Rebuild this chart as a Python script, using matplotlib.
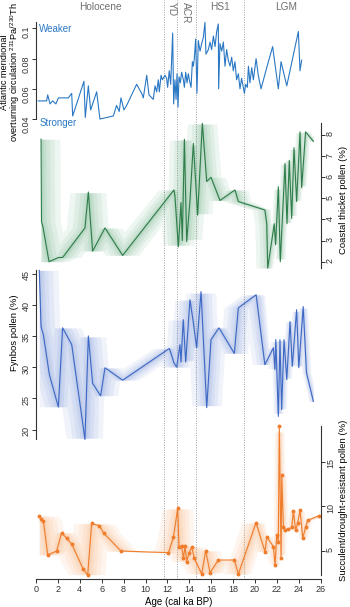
import numpy as np
import matplotlib
matplotlib.use("Agg")
import matplotlib.pyplot as plt

plt.rcParams["font.family"] = ["Liberation Sans", "DejaVu Sans"]
plt.rcParams["mathtext.fontset"] = "custom"
plt.rcParams["mathtext.rm"] = "Liberation Sans"

# --- data (age in cal ka BP) ---
amoc_age = [0.21, 0.97, 1.07, 1.28, 1.52, 1.82, 2.04, 2.95, 3.26, 3.35,
            4.38, 4.5, 4.78, 4.99, 5.54, 5.84, 7.06, 7.36, 7.6, 7.76,
            8.03, 8.28, 9.19, 9.65, 9.8, 10.11, 10.32, 10.71, 10.87, 11.02,
            11.17, 11.26, 11.42, 11.54, 11.78, 11.93, 12.02, 12.17, 12.3, 12.48,
            12.57, 12.69, 12.79, 12.88, 12.97, 13.06, 13.18, 13.3, 13.46, 13.55,
            13.67, 13.79, 13.91, 14.03, 14.16, 14.28, 14.37, 14.46, 14.58, 14.7,
            14.82, 14.98, 15.13, 15.28, 15.43, 15.52, 15.74, 15.89, 16.04, 16.2,
            16.35, 16.5, 16.65, 16.68, 16.8, 16.96, 17.11, 17.26, 17.41, 17.56,
            17.72, 17.87, 18.02, 18.17, 18.32, 18.48, 18.63, 18.78, 19.03, 19.15,
            19.3, 19.4, 19.54, 19.7, 19.85, 20.1, 20.3, 20.55, 21.07, 21.61,
            22.13, 22.38, 22.9, 23.96, 24.11, 24.26]
amoc_pa_th = [0.052, 0.052, 0.056, 0.050, 0.052, 0.050, 0.054, 0.054, 0.057, 0.042,
              0.065, 0.041, 0.062, 0.046, 0.058, 0.040, 0.042, 0.049, 0.045, 0.054,
              0.046, 0.049, 0.063, 0.057, 0.054, 0.069, 0.056, 0.053, 0.062, 0.058,
              0.066, 0.058, 0.069, 0.066, 0.069, 0.067, 0.061, 0.072, 0.063, 0.097,
              0.050, 0.066, 0.053, 0.070, 0.048, 0.068, 0.064, 0.071, 0.066, 0.061,
              0.071, 0.064, 0.070, 0.065, 0.061, 0.078, 0.075, 0.080, 0.093, 0.057,
              0.092, 0.085, 0.090, 0.094, 0.104, 0.083, 0.086, 0.091, 0.086, 0.095,
              0.088, 0.098, 0.103, 0.060, 0.090, 0.085, 0.091, 0.075, 0.086, 0.079,
              0.075, 0.081, 0.072, 0.078, 0.066, 0.070, 0.060, 0.067, 0.057, 0.063,
              0.061, 0.075, 0.064, 0.074, 0.066, 0.080, 0.069, 0.060, 0.074, 0.088,
              0.060, 0.078, 0.062, 0.098, 0.072, 0.079]

thicket_age = [0.46, 0.5, 0.65, 1.19, 2.04, 2.43, 4.47, 4.78, 5.17, 6.3,
               7.91, 12.6, 12.69, 13.0, 13.24, 13.36, 13.55, 13.76, 14.06, 14.37,
               14.76, 15.19, 15.59, 15.98, 16.8, 18.17, 18.48, 20.9, 21.07, 21.16,
               21.76, 21.88, 22.13, 22.31, 22.74, 22.92, 23.13, 23.35, 23.56, 23.8,
               24.11, 24.26, 24.62, 25.33]
thicket_pct = [7.8, 3.9, 3.6, 2.0, 2.2, 2.2, 3.6, 5.3, 2.5, 3.6,
               2.3, 5.4, 5.1, 2.7, 4.8, 3.0, 7.8, 2.95, 4.9, 7.6,
               4.2, 8.55, 5.8, 6.0, 4.9, 5.4, 4.85, 4.45, 3.8, 1.7,
               3.8, 2.8, 5.55, 2.0, 6.65, 3.8, 6.8, 4.05, 7.4, 4.85,
               8.15, 5.5, 8.15, 7.7]

fynbos_age = [0.3, 0.46, 0.67, 1.22, 2.04, 2.43, 3.26, 4.47, 4.78, 5.17,
              5.9, 6.3, 7.91, 12.18, 12.6, 12.69, 12.85, 13.15, 13.24, 13.45,
              13.67, 14.06, 14.37, 14.67, 15.07, 15.59, 15.98, 16.71, 18.11, 18.48,
              20.1, 20.9, 21.68, 21.82, 21.9, 22.13, 22.28, 22.43, 22.65, 22.9,
              23.2, 23.4, 23.8, 24.0, 24.4, 24.7, 25.33]
fynbos_pct = [45.5, 36.5, 35.2, 28.8, 23.6, 36.3, 33.6, 18.4, 35.0, 27.4,
              25.4, 29.9, 27.9, 33.0, 30.7, 30.4, 30.0, 33.6, 30.8, 37.6,
              30.8, 40.8, 37.1, 33.1, 42.1, 23.5, 34.4, 36.3, 32.2, 39.5,
              41.6, 30.4, 33.1, 29.6, 34.4, 22.1, 34.4, 23.2, 34.4, 28.0,
              37.3, 30.1, 39.2, 29.9, 39.7, 29.1, 24.5]

succulent_age = [0.3, 0.46, 0.67, 1.07, 1.88, 2.34, 2.8, 3.26, 4.32, 4.72,
                 5.08, 5.78, 6.2, 7.76, 12.1, 12.55, 12.94, 13.06, 13.3, 13.46,
                 13.61, 13.76, 13.97, 14.22, 14.46, 15.13, 15.5, 15.89, 16.65, 18.11,
                 18.48, 20.09, 20.91, 21.07, 21.68, 21.83, 21.98, 22.13, 22.22, 22.38,
                 22.44, 22.59, 22.74, 23.05, 23.35, 23.5, 23.71, 23.9, 24.11, 24.36,
                 24.63, 24.81, 25.8]
succulent_pct = [8.88, 8.5, 8.35, 4.5, 4.94, 7.0, 6.37, 5.73, 2.88, 2.25,
                 8.05, 7.8, 6.93, 4.94, 4.76, 6.5, 9.74, 5.43, 5.5, 4.1,
                 5.5, 3.75, 4.7, 5.4, 4.1, 2.36, 5.0, 2.5, 3.93, 3.93,
                 2.36, 8.13, 4.87, 6.55, 5.43, 3.37, 6.74, 6.0, 19.0, 4.12,
                 13.5, 7.7, 7.3, 7.4, 7.6, 9.4, 7.3, 8.1, 9.55, 6.37,
                 7.7, 8.4, 8.9]

# age-model uncertainty (half width, ka) used for the shaded clouds
unc_age = [0, 12, 19, 20.5, 21.5, 26]
unc_width = [1.8, 1.4, 1.3, 1.0, 0.45, 0.4]

# period boundaries and labels
boundaries = [11.7, 12.9, 14.6, 19.0]
period_names = ["Holocene", "YD", "ACR", "HS1", "LGM"]
period_mid = [5.9, 12.42, 13.7, 16.8, 22.8]

# --- layout helpers (pixels of a 350 x 607 canvas) ---
W, H = 350.0, 607.0
X0, X1 = 36.0, 320.7
AX_COLOR = "#333333"


def add_panel(fig, top, bottom, anchor1, anchor2):
    """Transparent axes over the shared age axis; ylim set from two tick anchors."""
    ax = fig.add_axes([X0 / W, 1 - bottom / H, (X1 - X0) / W, (bottom - top) / H])
    (v1, y1), (v2, y2) = anchor1, anchor2
    k = (y2 - y1) / (v1 - v2)
    ax.set_ylim(v1 - (bottom - y1) / k, v1 + (y1 - top) / k)
    ax.set_xlim(0, 26)
    ax.patch.set_visible(False)
    for s in ax.spines.values():
        s.set_visible(False)
    ax.tick_params(axis="x", bottom=False, labelbottom=False)
    return ax


def style_yaxis(ax, side, vals, ticks, labels):
    sp = ax.spines[side]
    sp.set_visible(True)
    sp.set_color(AX_COLOR)
    sp.set_linewidth(0.8)
    sp.set_bounds(min(vals), max(vals))
    if side == "right":
        ax.yaxis.tick_right()
    ax.set_yticks(ticks)
    ax.set_yticklabels(labels)
    ax.tick_params(axis="y", length=3, width=0.7, colors=AX_COLOR, labelsize=6.5,
                   pad=0.8, labelrotation=90)


def draw_cloud(ax, ages, vals, color):
    """Shaded age-uncertainty cloud: range of the record within +/- age window."""
    ages = np.asarray(ages)
    vals = np.asarray(vals)
    fine = np.linspace(ages.min(), ages.max(), 1200)
    fine_v = np.interp(fine, ages, vals)
    spread = np.interp(fine, unc_age, unc_width)
    dist = np.abs(fine[None, :] - fine[:, None])
    for frac in [0.04, 0.12, 0.25, 0.45, 0.7, 1.0]:
        inside = dist <= (spread * frac)[:, None]
        lo = np.where(inside, fine_v[None, :], np.inf).min(axis=1)
        hi = np.where(inside, fine_v[None, :], -np.inf).max(axis=1)
        ax.fill_between(fine, lo, hi, color=color, alpha=0.09, lw=0)


fig = plt.figure(figsize=(W / 100, H / 100), dpi=100)

# background axes: period lines, labels and the age axis
bg = add_panel(fig, 0, 579, (1, 0), (0, 579))
bg.set_ylim(0, 1)
for b in boundaries:
    bg.axvline(b, color="#a0a0a0", lw=0.7, ls=(0, (1, 1.5)))
for name, mid in zip(period_names, period_mid):
    if name in ("YD", "ACR"):
        bg.text(mid, 0.997, name, rotation=-90, ha="center", va="top",
                fontsize=7.3, color="#707070")
    else:
        bg.text(mid, 0.988, name, ha="center", va="center", fontsize=7.3,
                color="#707070")
bg.spines["bottom"].set_visible(True)
bg.spines["bottom"].set_color(AX_COLOR)
bg.spines["bottom"].set_linewidth(0.8)
bg.spines["bottom"].set_bounds(0, 26)
bg.set_xticks(np.arange(0, 27, 2))
bg.tick_params(axis="x", bottom=True, labelbottom=True, length=3, width=0.7,
               colors=AX_COLOR, labelsize=6.5, pad=1.5)
bg.tick_params(axis="y", left=False, labelleft=False)
bg.set_xlabel("Age (cal ka BP)", fontsize=7, labelpad=2)

# AMOC (Pa/Th)
amoc_color = "#2a78c4"
ax1 = add_panel(fig, 15, 130, (0.1, 28.5), (0.04, 119))
ax1.plot(amoc_age, amoc_pa_th, color=amoc_color, lw=0.8)
style_yaxis(ax1, "left", amoc_pa_th, [0.04, 0.06, 0.08, 0.1],
            ["0.04", "0.06", "0.08", "0.1"])
ax1.text(0.3, 0.1, "Weaker", color=amoc_color, fontsize=7, ha="left", va="center")
ax1.text(0.3, 0.0372, "Stronger", color=amoc_color, fontsize=7, ha="left",
         va="center")
fig.text(5 / W, 1 - 72 / H, "Atlantic meridional", rotation=90, ha="center",
         va="center", fontsize=6.6)
fig.text(15 / W, 1 - 72 / H, r"overturning circulation $^{231}$Pa/$^{230}$Th",
         rotation=90, ha="center", va="center", fontsize=6.6)

# Coastal thicket
green = "#2f7d4a"
ax2 = add_panel(fig, 115, 275, (8, 135), (2, 261.7))
draw_cloud(ax2, thicket_age, thicket_pct, "#4a9e6a")
ax2.plot(thicket_age, thicket_pct, color=green, lw=0.8)
style_yaxis(ax2, "right", thicket_pct, range(2, 9), [str(t) for t in range(2, 9)])
fig.text(343 / W, 1 - 200 / H, "Coastal thicket pollen (%)", rotation=90,
         ha="center", va="center", fontsize=6.8)

# Fynbos
blue = "#3d68c4"
ax3 = add_panel(fig, 255, 450, (45, 273.5), (20, 429.5))
draw_cloud(ax3, fynbos_age, fynbos_pct, "#5b7fd0")
ax3.plot(fynbos_age, fynbos_pct, color=blue, lw=0.8)
style_yaxis(ax3, "left", fynbos_pct, range(20, 46, 5),
            [str(t) for t in range(20, 46, 5)])
fig.text(15 / W, 1 - 333 / H, "Fynbos pollen (%)", rotation=90, ha="center",
         va="center", fontsize=6.8)

# Succulent / drought-resistant
orange = "#ef7d2c"
ax4 = add_panel(fig, 410, 580, (15, 461.7), (5, 550.5))
draw_cloud(ax4, succulent_age, succulent_pct, "#f5954a")
ax4.plot(succulent_age, succulent_pct, color=orange, lw=0.8, marker="o", ms=1.8)
style_yaxis(ax4, "right", succulent_pct, [5, 10, 15], ["5", "10", "15"])
fig.text(343 / W, 1 - 500 / H, "Succulent/drought-resistant pollen (%)",
         rotation=90, ha="center", va="center", fontsize=6.8)

fig.savefig("out.png", dpi=100)
